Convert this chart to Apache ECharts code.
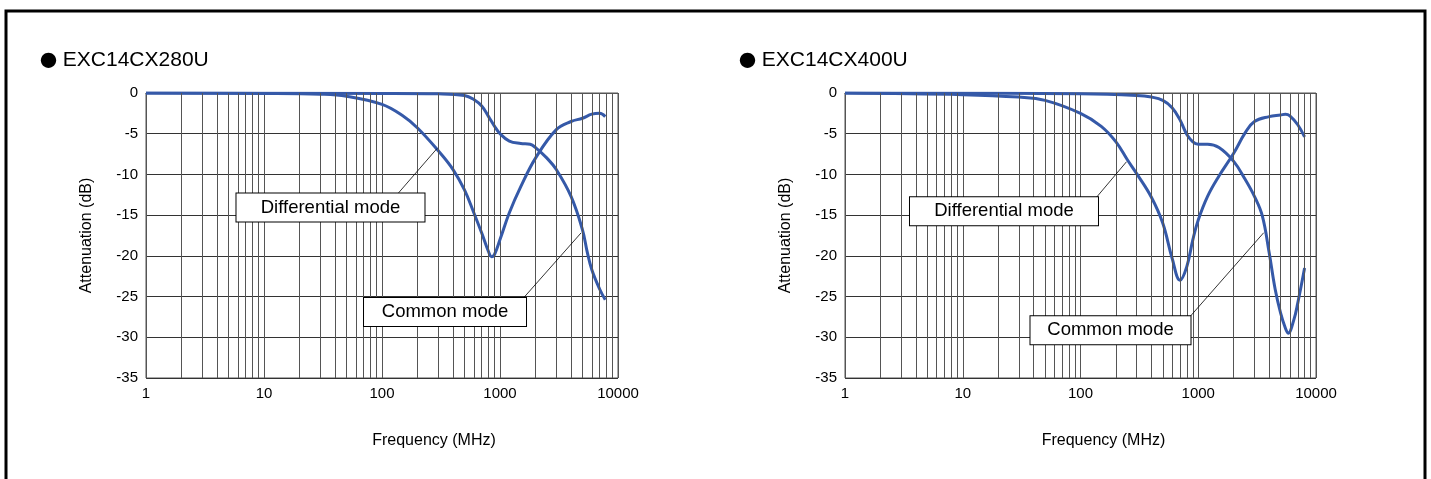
<!DOCTYPE html>
<html>
<head>
<meta charset="utf-8">
<script src="https://cdn.jsdelivr.net/npm/echarts@6/dist/echarts.min.js"></script>
<style>
html,body{margin:0;padding:0;background:#fff;}
#c{width:1431px;height:479px;}
</style>
</head>
<body>
<div id="c"></div>
<script>
// ---- data ----
const titles = ['EXC14CX280U', 'EXC14CX400U'];
const xTickValues = [1, 10, 100, 1000, 10000];
const yTicks = [0, -5, -10, -15, -20, -25, -30, -35];
const minorFreqs = [2,3,4,5,6,7,8,9,20,30,40,50,60,70,80,90,200,300,400,500,600,700,800,900,2000,3000,4000,5000,6000,7000,8000,9000];

// EXC14CX280U
const l_diffFreq = [1, 10, 30, 50, 100, 150, 200, 300, 400, 500, 600, 700, 800, 850, 900, 1000, 1200, 1500, 2000, 3000, 4000, 5000, 6000, 7000, 7800];
const l_diffVal  = [0, -0.05, -0.15, -0.4, -1.4, -2.8, -4.3, -7.1, -9.4, -11.9, -14.7, -17.2, -19.5, -20.1, -19.8, -18.0, -14.7, -11.5, -8.0, -4.5, -3.5, -3.1, -2.6, -2.5, -2.9];
const l_commFreq = [1, 100, 300, 500, 600, 700, 800, 900, 1000, 1200, 1500, 1800, 2000, 2500, 3000, 4000, 5000, 5500, 6000, 7000, 7800];
const l_commVal  = [0, -0.05, -0.1, -0.3, -0.8, -1.6, -2.9, -4.1, -5.0, -5.9, -6.2, -6.3, -6.7, -8.0, -9.4, -12.7, -16.8, -19.6, -21.7, -24.1, -25.4];

// EXC14CX400U
const r_diffFreq = [1, 10, 30, 50, 100, 150, 200, 250, 300, 400, 500, 600, 700, 800, 900, 1000, 1200, 1500, 2000, 2500, 3000, 4000, 5000, 5500, 6000, 7000, 8000];
const r_diffVal  = [0, -0.2, -0.5, -0.9, -2.5, -4.1, -6.0, -8.2, -9.9, -12.8, -16.0, -20.3, -23.0, -21.3, -18.0, -15.6, -12.7, -10.2, -7.4, -4.9, -3.5, -2.9, -2.7, -2.6, -2.8, -3.9, -5.4];
const r_commFreq = [1, 100, 300, 400, 500, 600, 700, 800, 900, 1000, 1200, 1500, 2000, 2500, 3000, 3500, 4000, 4500, 5000, 5500, 5800, 6500, 7000, 8000];
const r_commVal  = [0, -0.1, -0.3, -0.5, -0.9, -1.8, -3.3, -5.1, -6.0, -6.3, -6.3, -6.7, -8.4, -10.6, -12.7, -15.1, -19.6, -24.1, -27.0, -28.9, -29.5, -27.8, -25.8, -21.5];

// annotation anchors in data space [freq, dB]
const annots = [
  { diffBox: [36.6, -14.06], diffLine: [[136.7, -12.34], [292.5, -6.82]],
    commBox: [342, -26.9], commLine: [[1566, -25.24], [4857, -17.19]], diffW: 188, commW: 162 },
  { diffBox: [22.4, -14.53], diffLine: [[136.7, -12.81], [245.9, -8.44]],
    commBox: [179.8, -29.13], commLine: [[859.5, -27.39], [3596, -17.16]], diffW: 188, commW: 160 }
];

// ---- chart ----
const FONT = '"Liberation Sans", Arial, sans-serif';
const BLUE = '#3559a8';
const GRIDC = '#555';
const pair = (fs, vs) => fs.map((f, i) => [f, vs[i]]);

const grids = [
  { left: 146, top: 93, width: 472, height: 285 },
  { left: 845, top: 93, width: 471, height: 285 }
];
const xNameShift = [104, 46];

const option = {
  animation: false,
  backgroundColor: '#fff',
  title: titles.map((t, i) => ({
    text: '{b|\u25CF}{t| ' + t + '}',
    left: i === 0 ? 35 : 734,
    top: 45,
    textStyle: {
      fontWeight: 'normal',
      rich: {
        b: { fontFamily: '"Noto Sans CJK JP", sans-serif', fontSize: 17, fontWeight: 'normal', color: '#000' },
        t: { fontFamily: FONT, fontSize: 21, fontWeight: 'normal', color: '#000' }
      }
    }
  })),
  graphic: [{
    type: 'rect', silent: true,
    shape: { x: 6, y: 11, width: 1419, height: 520 },
    style: { fill: 'none', stroke: '#000', lineWidth: 3 }
  }],
  grid: grids.map(g => Object.assign({ show: true, borderColor: GRIDC, borderWidth: 1, backgroundColor: 'transparent' }, g)),
  xAxis: grids.map((g, i) => ({
    type: 'log', logBase: 10, gridIndex: i, min: 1, max: 10000,
    name: 'Frequency (MHz)', nameLocation: 'middle', nameGap: 55,
    nameTextStyle: { fontFamily: FONT, fontSize: 16, color: '#000', padding: [0, 0, 0, xNameShift[i]] },
    axisLine: { show: true, lineStyle: { color: GRIDC, width: 1 } },
    axisTick: { show: false },
    axisLabel: { fontFamily: FONT, fontSize: 15, color: '#000', margin: 8,
      formatter: v => (xTickValues.indexOf(Math.round(v)) >= 0 ? String(Math.round(v)) : '') },
    splitLine: { show: true, lineStyle: { color: GRIDC, width: 1 } }
  })),
  yAxis: grids.map((g, i) => ({
    type: 'value', gridIndex: i, min: -35, max: 0, interval: 5,
    name: 'Attenuation (dB)', nameLocation: 'middle', nameGap: 51, nameRotate: 90,
    nameTextStyle: { fontFamily: FONT, fontSize: 16, color: '#000' },
    axisLine: { show: true, lineStyle: { color: GRIDC, width: 1 } },
    axisTick: { show: false },
    axisLabel: { fontFamily: FONT, fontSize: 15, color: '#000', margin: 8,
      formatter: v => (yTicks.indexOf(v) >= 0 ? String(v) : '') },
    splitLine: { show: true, lineStyle: { color: '#333', width: 1 } }
  })),
  series: []
};

const curveSets = [
  [pair(l_diffFreq, l_diffVal), pair(l_commFreq, l_commVal)],
  [pair(r_diffFreq, r_diffVal), pair(r_commFreq, r_commVal)]
];

function boxLabel(text, w) {
  return {
    show: true, position: 'inside', formatter: text,
    color: '#000', fontFamily: FONT, fontSize: 18.5,
    backgroundColor: '#fff', borderColor: '#000', borderWidth: 1,
    width: w, height: 20, lineHeight: 20, padding: [4, 0], align: 'center', verticalAlign: 'middle'
  };
}

curveSets.forEach((sets, i) => {
  option.series.push({
    type: 'line', xAxisIndex: i, yAxisIndex: i, data: [], z: 1, silent: true,
    markLine: {
      silent: true, symbol: 'none', label: { show: false },
      lineStyle: { color: GRIDC, width: 1, type: 'solid' },
      data: minorFreqs.map(f => ({ xAxis: f }))
    }
  });
  sets.forEach(d => {
    option.series.push({
      type: 'line', xAxisIndex: i, yAxisIndex: i, data: d, z: 3,
      smooth: 0.4, showSymbol: false, symbol: 'none',
      lineStyle: { color: BLUE, width: 3 }
    });
  });
  const a = annots[i];
  option.series.push({
    type: 'line', xAxisIndex: i, yAxisIndex: i, data: [], z: 5, silent: true,
    markLine: {
      silent: true, symbol: 'none', label: { show: false },
      lineStyle: { color: '#000', width: 0.8, type: 'solid' },
      data: [
        [{ coord: a.diffLine[0] }, { coord: a.diffLine[1] }],
        [{ coord: a.commLine[0] }, { coord: a.commLine[1] }]
      ]
    },
    markPoint: {
      silent: true, symbol: 'rect', symbolSize: 1,
      itemStyle: { color: 'rgba(0,0,0,0)' },
      data: [
        { coord: a.diffBox, label: boxLabel('Differential mode', a.diffW) },
        { coord: a.commBox, label: boxLabel('Common mode', a.commW) }
      ]
    }
  });
});

const chart = echarts.init(document.getElementById('c'));
chart.setOption(option);
</script>
</body>
</html>
